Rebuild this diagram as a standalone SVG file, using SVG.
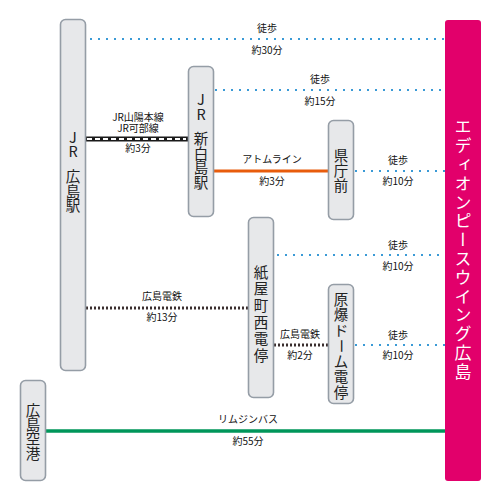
<svg xmlns="http://www.w3.org/2000/svg" width="501" height="501" viewBox="0 0 501 501">
<style>
.box{fill:#e7e8ea;stroke:#959da6;stroke-width:1.6}
.st{font-family:"Noto Sans CJK JP","Noto Sans",sans-serif;font-size:14.5px;fill:#222;text-anchor:middle}
.lb{font-family:"Noto Sans CJK JP","Noto Sans",sans-serif;font-size:10px;fill:#111;text-anchor:middle}
.walk{stroke:#3a9ad6;stroke-width:2;stroke-dasharray:2 6;fill:none}
.den{stroke:#3a2e2e;stroke-width:3;stroke-dasharray:2 2;fill:none}
</style>
<rect width="501" height="501" fill="#ffffff"/>
<g id="connectors">
  <line class="walk" x1="90" y1="39" x2="445" y2="39"/>
  <line class="walk" x1="215" y1="90" x2="445" y2="90"/>
  <line class="walk" x1="355" y1="171" x2="445" y2="171"/>
  <line class="walk" x1="277" y1="255" x2="445" y2="255"/>
  <line class="walk" x1="355" y1="345" x2="445" y2="345"/>
  <line x1="85" y1="139" x2="188" y2="139" stroke="#1a1a1a" stroke-width="5"/>
  <line x1="87" y1="139" x2="186" y2="139" stroke="#ffffff" stroke-width="2" stroke-dasharray="5 3"/>
  <line x1="213" y1="171" x2="328" y2="171" stroke="#e85c0c" stroke-width="3"/>
  <line class="den" x1="86" y1="308" x2="248" y2="308"/>
  <line class="den" x1="274" y1="345" x2="328" y2="345"/>
  <line x1="45" y1="431" x2="445" y2="431" stroke="#00965a" stroke-width="3.5"/>
  <text class="lb" x="267" y="31.5">徒歩</text>
  <text class="lb" x="267" y="53.5">約30分</text>
  <text class="lb" x="320" y="82.5">徒歩</text>
  <text class="lb" x="320" y="104.5">約15分</text>
  <text class="lb" x="138" y="120.5" font-size="9.5">JR山陽本線</text>
  <text class="lb" x="138" y="131.5" font-size="9.5">JR可部線</text>
  <text class="lb" x="138" y="152">約3分</text>
  <text class="lb" x="272" y="162.5">アトムライン</text>
  <text class="lb" x="272" y="184.5">約3分</text>
  <text class="lb" x="398" y="163.5">徒歩</text>
  <text class="lb" x="398" y="184.5">約10分</text>
  <text class="lb" x="398" y="248.5">徒歩</text>
  <text class="lb" x="398" y="270">約10分</text>
  <text class="lb" x="162" y="300">広島電鉄</text>
  <text class="lb" x="162" y="321">約13分</text>
  <text class="lb" x="300" y="337.5">広島電鉄</text>
  <text class="lb" x="300" y="359">約2分</text>
  <text class="lb" x="398" y="338.5">徒歩</text>
  <text class="lb" x="398" y="359">約10分</text>
  <text class="lb" x="248" y="423">リムジンバス</text>
  <text class="lb" x="248" y="444.5">約55分</text>
</g>
<g id="jr-hiroshima">
  <rect class="box" x="60.5" y="19.5" width="25" height="351" rx="5"/>
  <text class="st" x="73" y="143">J</text>
  <text class="st" x="73" y="157">R</text>
  <text class="st" x="73" y="181.5">広</text>
  <text class="st" x="73" y="196.5">島</text>
  <text class="st" x="73" y="211">駅</text>
</g>
<g id="jr-shinhakushima">
  <rect class="box" x="188.5" y="66.5" width="25" height="150" rx="5"/>
  <text class="st" x="201" y="105">J</text>
  <text class="st" x="201" y="120">R</text>
  <text class="st" x="201" y="143.5">新</text>
  <text class="st" x="201" y="158.5">白</text>
  <text class="st" x="201" y="173">島</text>
  <text class="st" x="201" y="187.5">駅</text>
</g>
<g id="kenchomae">
  <rect class="box" x="328.5" y="120.5" width="25" height="99" rx="5"/>
  <text class="st" x="341" y="160.5">県</text>
  <text class="st" x="341" y="175.5">庁</text>
  <text class="st" x="341" y="190.5">前</text>
</g>
<g id="kamiyacho-nishi">
  <rect class="box" x="248.5" y="217.5" width="25" height="180" rx="5"/>
  <text class="st" x="261" y="277.5" font-size="15">紙</text>
  <text class="st" x="261" y="294" font-size="15">屋</text>
  <text class="st" x="261" y="311" font-size="15">町</text>
  <text class="st" x="261" y="327.5" font-size="15">西</text>
  <text class="st" x="261" y="344" font-size="15">電</text>
  <text class="st" x="261" y="360.5" font-size="15">停</text>
</g>
<g id="genbaku-dome">
  <rect class="box" x="328.5" y="284.5" width="25" height="119" rx="5"/>
  <text class="st" x="341" y="304.5">原</text>
  <text class="st" x="341" y="320">爆</text>
  <text class="st" x="341" y="335.5">ド</text>
  <text class="st" x="341" y="351" transform="rotate(90 341 346)">ー</text>
  <text class="st" x="341" y="366.5">ム</text>
  <text class="st" x="341" y="382">電</text>
  <text class="st" x="341" y="397.5">停</text>
</g>
<g id="hiroshima-airport">
  <rect class="box" x="20.5" y="380.5" width="25" height="100" rx="5"/>
  <text class="st" x="33" y="415.5" font-size="14">広</text>
  <text class="st" x="33" y="430" font-size="14">島</text>
  <text class="st" x="33" y="444" font-size="14">空</text>
  <text class="st" x="33" y="458.5" font-size="14">港</text>
</g>
<g id="edion-peace-wing">
  <rect x="445" y="20" width="36" height="461" rx="3" fill="#e2006b"/>
  <text x="463" y="250" font-family="'Noto Sans CJK JP',sans-serif" font-size="17" fill="#ffffff" text-anchor="middle" writing-mode="vertical-rl" text-orientation="upright" letter-spacing="1.8">エディオンピースウイング広島</text>
</g>
</svg>
